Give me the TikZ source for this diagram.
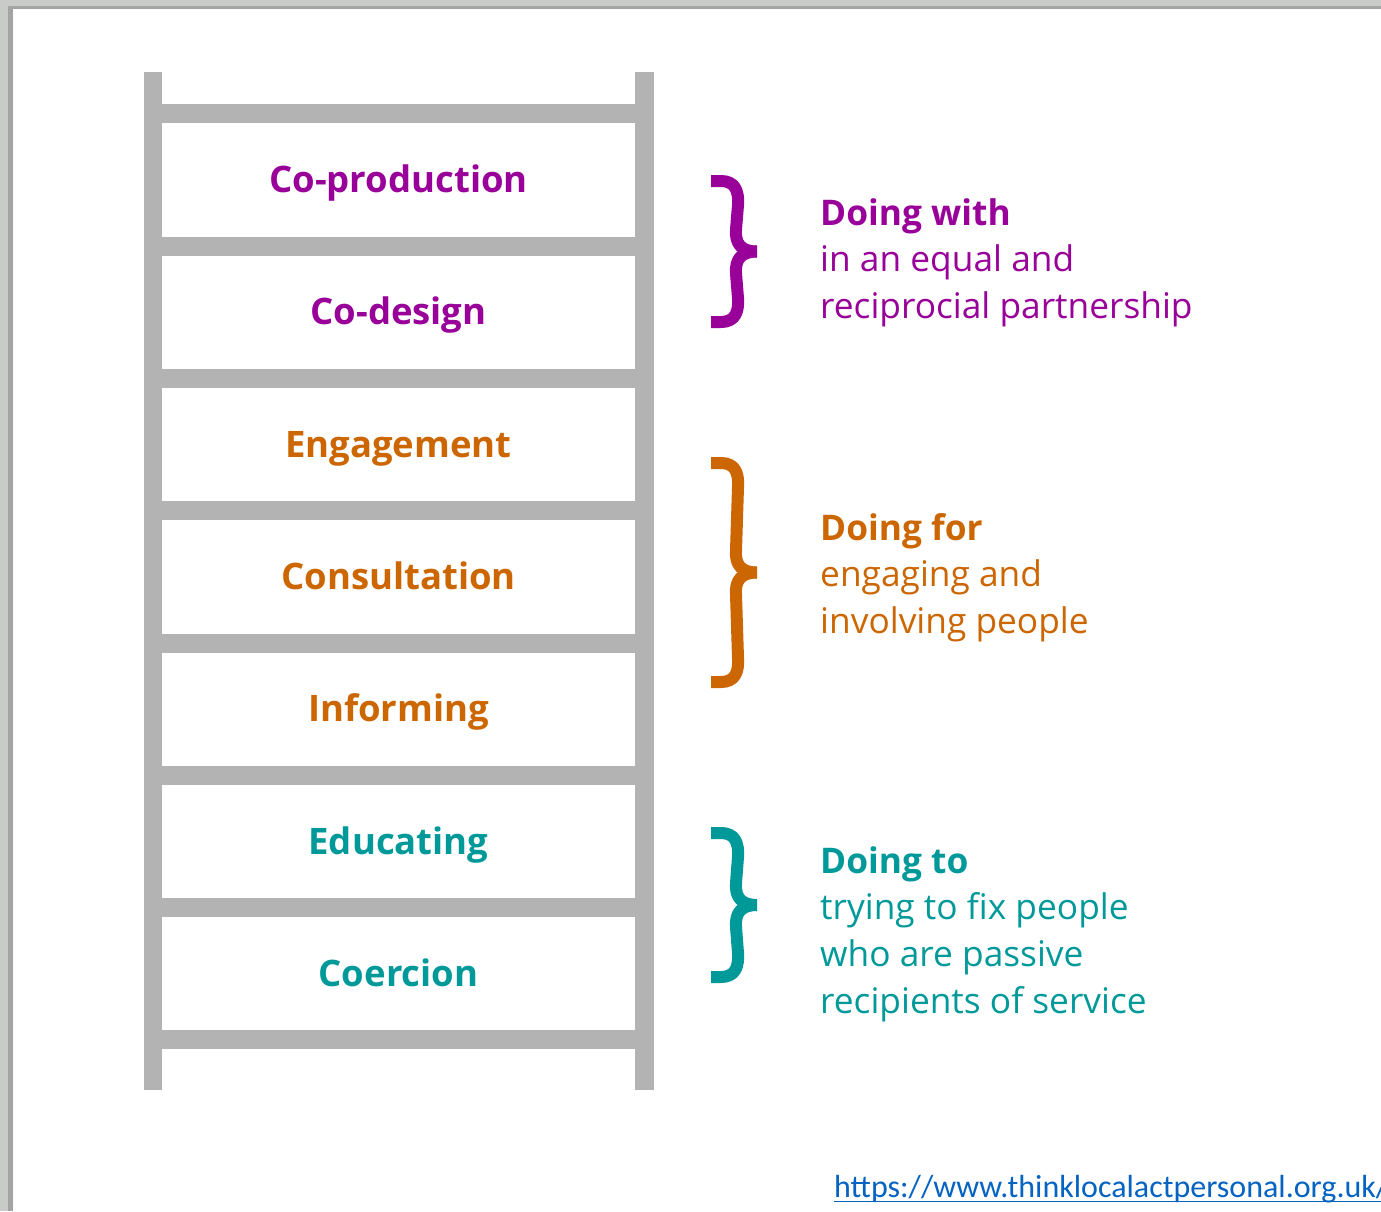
\documentclass[tikz,border=0pt]{standalone}
\usepackage{fontspec}
\setmainfont{Open Sans}
\newfontfamily\linkfont{Carlito}
\usetikzlibrary{calc}

\definecolor{frame}{HTML}{C9CBC9}
\definecolor{frameshade}{HTML}{A3A4A3}
\definecolor{rail}{HTML}{B3B3B3}
\definecolor{withc}{HTML}{990099}
\definecolor{forc}{HTML}{CC6600}
\definecolor{toc}{HTML}{009999}
\definecolor{linkc}{HTML}{0563C1}

\tikzset{
  rungbar/.style={fill=rail, draw=none},
  steplabel/.style={anchor=base, inner sep=0pt, font=\fontsize{36.5}{40}\selectfont\bfseries},
  grouptext/.style={anchor=base west, inner sep=0pt, align=left, font=\fontsize{35.3}{46.7}\selectfont},
  bracestroke/.style={line width=12pt, line cap=butt, line join=round},
}

% curly brace: #1 colour, #2 top y, #3 bottom y (left tip at x=711)
\newcommand{\groupbrace}[3]{%
  \pgfmathsetmacro{\bm}{(#2+#3)/2}%
  \draw[bracestroke, #1] (711,#2+6) -- (721,#2+6)
    .. controls (735,#2+6) and (739,#2+16) .. (738,#2+30)
    -- (736,\bm-22)
    .. controls (735,\bm-8) and (741,\bm) .. (757,\bm);
  \draw[bracestroke, #1] (757,\bm)
    .. controls (741,\bm) and (735,\bm+8) .. (736,\bm+22)
    -- (738,#3-30)
    .. controls (739,#3-16) and (735,#3-6) .. (721,#3-6) -- (711,#3-6);
}

\begin{document}
\begin{tikzpicture}[x=1pt, y=-1pt]
  \useasboundingbox (0,0) rectangle (1381,1211);
  \clip (0,0) rectangle (1381,1211);

  % window frame and page
  \fill[frame] (0,0) rectangle (1381,1211);
  \fill[frameshade] (8,6) rectangle (1381,1211);
  \fill[white!90!frame] (13,9) rectangle (1381,1211);
  \fill[white] (14,10) rectangle (1381,1211);

  % ladder rails
  \fill[rungbar] (143.5,72) rectangle (162,1090);
  \fill[rungbar] (635,72) rectangle (653.5,1090);
  % rungs
  \foreach \k in {0,...,7} {
    \fill[rungbar] (162,{104.3+132.3*\k}) rectangle (635,{123.3+132.3*\k});
  }

  % step labels
  \node[steplabel, withc] (l1) at (398.5,192.5) {Co-production};
  \node[steplabel, withc] (l2) at (398.5,324.8) {Co-design};
  \node[steplabel, forc]  (l3) at (398.5,457.1) {Engagement};
  \node[steplabel, forc]  (l4) at (398.5,589.4) {Consultation};
  \node[steplabel, forc]  (l5) at (398.5,721.7) {Informing};
  \node[steplabel, toc]   (l6) at (398.5,854.0) {Educating};
  \node[steplabel, toc]   (l7) at (398.5,986.3) {Coercion};

  % group braces
  \groupbrace{withc}{175}{328}
  \groupbrace{forc}{457}{688}
  \groupbrace{toc}{827}{983}

  % group descriptions (anchored on the baseline of the last line)
  \node[grouptext, withc] (g1) at (820,318.4)
    {\textbf{Doing with}\\in an equal and\\reciprocial partnership};
  \node[grouptext, forc] (g2) at (820,633.4)
    {\textbf{Doing for}\\engaging and\\involving people};
  \node[grouptext, toc] (g3) at (820,1013.1)
    {\textbf{Doing to}\\trying to fix people\\who are passive\\recipients of service};

  % source link
  \node[anchor=base west, inner sep=0pt, text=linkc, font=\linkfont\fontsize{32}{34}\selectfont] (link) at (834,1197)
    {https://www.thinklocalactpersonal.org.uk/};
  \draw[linkc, line width=1.6pt] (link.base west) ++(0,4.5) -- ($(link.base east)+(0,4.5)$);
\end{tikzpicture}
\end{document}
